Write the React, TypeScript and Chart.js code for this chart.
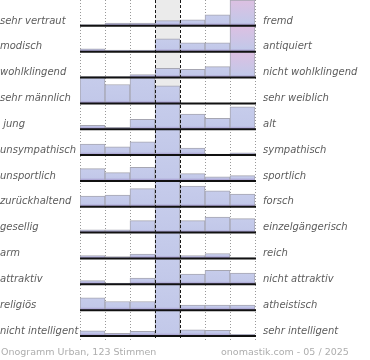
import React, { useEffect, useRef } from "react";
import { Chart, registerables } from "chart.js";

Chart.register(...registerables);

// scale positions (7 steps of the differential)
const columns = ["-3", "-2", "-1", "0", "1", "2", "3"];

const leftLabels = [
  "sehr vertraut", "modisch", "wohlklingend", "sehr männlich", " jung",
  "unsympathisch", "unsportlich", "zurückhaltend", "gesellig", "arm",
  "attraktiv", "religiös", "nicht intelligent",
];
const rightLabels = [
  "fremd", "antiquiert", "nicht wohlklingend", "sehr weiblich", "alt",
  "sympathisch", "sportlich", "forsch", "einzelgängerisch", "reich",
  "nicht attraktiv", "atheistisch", "sehr intelligent",
];
const footerLeft = "Onogramm Urban, 123 Stimmen";
const footerRight = "onomastik.com - 05 / 2025";

// vote shares per row (estimated, row cap = 26, taller values are clipped)
const vertrautFremd = [1.3, 2.7, 2.7, 5.3, 6, 11, 60];
const modischAntiquiert = [3, 1.7, 1.7, 13, 9, 9, 48];
const wohlklingend = [1, 1, 3, 9.3, 8.3, 11, 42];
const maennlichWeiblich = [27, 19, 28, 17.7, 0, 0, 0];
const jungAlt = [4, 2, 10, 34, 15.3, 11, 22.5];
const sympathisch = [11, 8.3, 13.3, 33, 7, 1, 2.3];
const sportlich = [12.3, 8.3, 13.7, 33, 7.3, 4, 5.3];
const zurueckhaltendForsch = [10.7, 11.7, 18.3, 28, 20.7, 16, 12.7];
const geselligEinzel = [2.7, 2.7, 12, 32, 12, 15.7, 14];
const armReich = [3, 2, 4.3, 38, 3, 5, 0.7];
const attraktiv = [3.7, 1.3, 6.3, 33, 10.3, 14, 11.3];
const religioesAtheistisch = [12.3, 8.7, 8.7, 33, 5, 5, 5];
const intelligent = [5.3, 2.7, 4.7, 36, 6.3, 5.7, 1.7];

const rows = [
  vertrautFremd, modischAntiquiert, wohlklingend, maennlichWeiblich, jungAlt,
  sympathisch, sportlich, zurueckhaltendForsch, geselligEinzel, armReich,
  attraktiv, religioesAtheistisch, intelligent,
];

const ROW = 26;
const CAP = 26;
const OVER = 40;

const labelFont = { family: "'DejaVu Sans', sans-serif", size: 10, style: "italic" as const };

function barFill(ctx: any, v: number) {
  const chart = ctx.chart;
  const raw = ctx.raw;
  if (!chart.chartArea || !Array.isArray(raw)) return "#c3c9e9";
  const y = chart.scales.y;
  const b = y.getPixelForValue(raw[0]);
  const t = y.getPixelForValue(raw[1]);
  const h = Math.max(1, b - t);
  const g = chart.ctx.createLinearGradient(0, b, 0, t);
  const f = Math.min(0.9, 3 / h);
  g.addColorStop(0, "#9c8cc4");
  g.addColorStop(f, "#c2c8e9");
  if (v > OVER) {
    g.addColorStop(1, "#ddc0e2");
  } else {
    g.addColorStop(1, "#c6cceb");
  }
  return g;
}

const decor = {
  id: "decor",
  beforeDatasetsDraw(chart: any) {
    const { ctx, chartArea, scales } = chart;
    const x = scales.x;
    const edge = (j: number) => x.getPixelForValue(j - 0.5);
    ctx.save();
    ctx.fillStyle = "#ebebeb";
    ctx.fillRect(edge(3), chartArea.top, edge(4) - edge(3), chartArea.bottom - chartArea.top);
    ctx.strokeStyle = "#999";
    ctx.lineWidth = 1;
    ctx.setLineDash([1, 2]);
    for (let j = 0; j <= columns.length; j++) {
      if (j === 3 || j === 4) continue;
      const px = Math.round(edge(j)) + 0.5;
      ctx.beginPath();
      ctx.moveTo(px, chartArea.top);
      ctx.lineTo(px, chartArea.bottom + 4);
      ctx.stroke();
    }
    ctx.restore();
  },
  afterDatasetsDraw(chart: any) {
    const { ctx, chartArea, scales } = chart;
    const x = scales.x;
    const y = scales.y;
    const edge = (j: number) => x.getPixelForValue(j - 0.5);
    ctx.save();
    ctx.strokeStyle = "#1a1a1a";
    ctx.lineWidth = 1;
    ctx.setLineDash([3, 2]);
    [3, 4].forEach((j) => {
      const px = Math.round(edge(j)) + 0.5;
      ctx.beginPath();
      ctx.moveTo(px, chartArea.top);
      ctx.lineTo(px, chartArea.bottom + 4);
      ctx.stroke();
    });
    ctx.setLineDash([]);
    ctx.strokeStyle = "#111";
    ctx.lineWidth = 2;
    rows.forEach((_, i) => {
      const py = y.getPixelForValue((rows.length - 1 - i) * ROW);
      ctx.beginPath();
      ctx.moveTo(chartArea.left, py);
      ctx.lineTo(chartArea.right + 1, py);
      ctx.stroke();
    });
    ctx.restore();
  },
};

export default function App() {
  const ref = useRef<HTMLCanvasElement | null>(null);

  useEffect(() => {
    if (!ref.current) return;
    const datasets = rows.map((vals, i) => {
      const base = (rows.length - 1 - i) * ROW;
      return {
        label: leftLabels[i],
        data: vals.map((v) => (v > 0 ? [base, base + Math.min(v, CAP)] : null)),
        backgroundColor: (ctx: any) => barFill(ctx, vals[ctx.dataIndex]),
        borderColor: "#a6a6b2",
        borderWidth: { top: 1, left: 1, right: 1, bottom: 0 },
        borderSkipped: false,
        grouped: false,
        barPercentage: 1,
        categoryPercentage: 1,
        xAxisID: "x",
        yAxisID: "y",
      };
    });

    const chart = new Chart(ref.current, {
      type: "bar",
      data: { labels: columns, datasets: datasets as any },
      plugins: [decor],
      options: {
        responsive: false,
        animation: false,
        events: [],
        layout: { padding: { top: 0, bottom: 24, left: 0, right: 0 } },
        plugins: { legend: { display: false }, tooltip: { enabled: false } },
        scales: {
          x: { type: "category", display: false, offset: true },
          y: { type: "linear", display: false, min: 0, max: rows.length * ROW },
          yl: {
            type: "category",
            labels: leftLabels,
            position: "left",
            offset: true,
            grid: { display: false, drawTicks: false },
            border: { display: false },
            ticks: { crossAlign: "far", labelOffset: 8, padding: 0, autoSkip: false, color: "#5c5c5c", font: labelFont },
            afterFit: (s: any) => { s.width = 80; s.paddingTop = 0; s.paddingBottom = 0; },
          },
          yr: {
            type: "category",
            labels: rightLabels,
            position: "right",
            offset: true,
            grid: { display: false, drawTicks: false },
            border: { display: false },
            ticks: { crossAlign: "near", labelOffset: 8, padding: 8, autoSkip: false, color: "#5c5c5c", font: labelFont },
            afterFit: (s: any) => { s.width = 115; s.paddingTop = 0; s.paddingBottom = 0; },
          },
        } as any,
      },
    });
    return () => chart.destroy();
  }, []);

  const footStyle: React.CSSProperties = {
    position: "absolute",
    top: 346,
    fontFamily: "'DejaVu Sans', sans-serif",
    fontSize: 9.5,
    lineHeight: "12px",
    color: "#adadad",
    whiteSpace: "nowrap",
  };

  return (
    <div style={{ position: "fixed", left: 0, top: 0, width: 370, height: 360, background: "#fff" }}>
      <canvas ref={ref} width={370} height={360} style={{ display: "block" }} />
      <span style={{ ...footStyle, left: 1 }}>{footerLeft}</span>
      <span style={{ ...footStyle, left: 221 }}>{footerRight}</span>
    </div>
  );
}
